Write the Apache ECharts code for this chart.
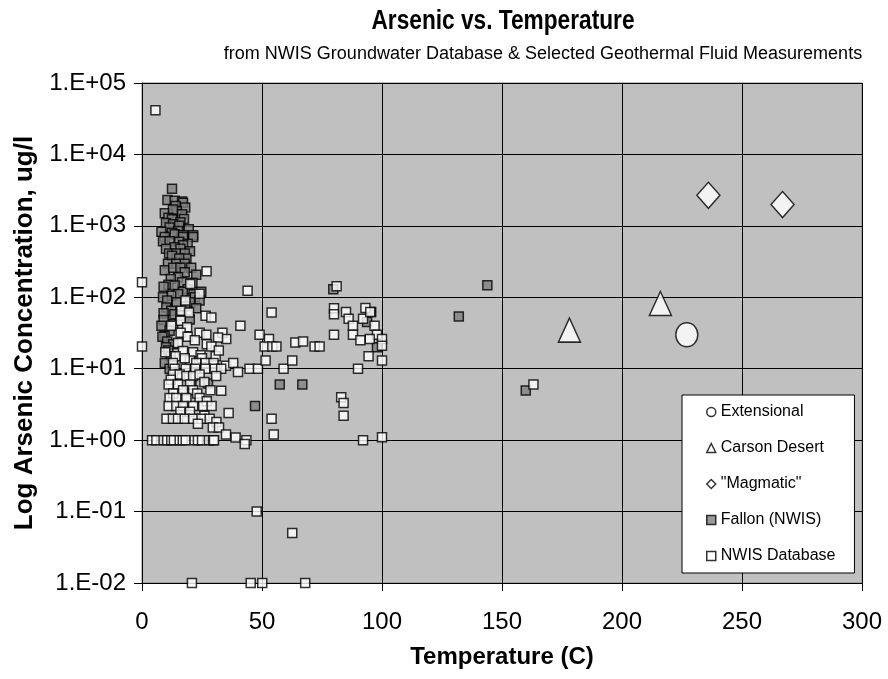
<!DOCTYPE html>
<html><head><meta charset="utf-8">
<script src="https://cdn.jsdelivr.net/npm/echarts@6/dist/echarts.min.js"></script>
<style>html,body{margin:0;padding:0;background:#fff}#c{width:888px;height:679px}</style>
</head><body><div id="c"></div>
<script>
const titleText = 'Arsenic vs. Temperature';
const subtitleText = 'from NWIS Groundwater Database & Selected Geothermal Fluid Measurements';
const xName = 'Temperature (C)';
const yName = 'Log Arsenic Concentration, ug/l';
const seriesNames = ['Extensional', 'Carson Desert', '"Magmatic"', 'Fallon (NWIS)', 'NWIS Database'];

const extensionalPts = [[227, 29.9]];
const carsonPts = [[178.1, 34.7], [216, 81.9]];
const magmaticPts = [[236, 2680], [266.9, 1987]];

const fallonPts = [[12.5,3300],[10.6,2300],[13.6,2250],[16.7,2200],[17.1,2100],[14,1900],[18,1800],[14.5,1600],[9.5,1500],[12.9,1700],[16.7,1450],[11,1300],[17.5,1250],[12.5,1240],[16,1120],[10,1100],[13,1050],[15.5,1000],[11.5,950],[19.5,900],[15,850],[8.1,830],[12.5,800],[13.6,760],[17.1,740],[21.3,740],[17.1,700],[21.3,700],[9.5,700],[8.75,610],[11.5,610],[15.5,600],[19,560],[17.1,535],[13.5,500],[10,480],[16,480],[20,440],[11.3,410],[14.3,410],[17.8,410],[12.5,380],[18.5,350],[15.5,350],[10.8,295],[14.3,295],[17.8,295],[9.5,240],[13,260],[16,260],[20.5,260],[17.8,225],[22.6,206],[15,190],[12,180],[16.7,163],[21,160],[11,150],[13.6,146],[9,140],[19,130],[17,120],[24.7,120],[15,111],[21.5,110],[12.2,105],[8.75,100],[22,100],[10.5,90],[24,90],[14.5,85],[20,85],[18,75],[10.1,72],[22.6,70],[12.2,65],[9,60],[13.5,58],[16,55],[19.9,49],[9,48],[13,42],[8.1,40],[11.5,34],[9.4,29],[8.5,28],[10.5,24],[13,22],[10,20],[11,18],[12,15],[9.5,12],[11.5,10],[20.6,6],[27.5,6.2],[47.1,3],[57.4,6],[66.8,6],[79.7,130],[93.8,45],[95.5,62],[97.9,20],[132,53.8],[143.9,147.6],[159.9,4.97]];

const nwisPts = [[5.6,41700],[0,163],[0,20.4],[26.9,232],[20.1,154],[24,112],[44,123],[18.1,90],[16.4,65],[19.6,61],[54,61],[26.5,55],[28.9,52],[16.1,47],[41,40],[12.2,40],[18.8,38],[16.1,32],[24,32],[26.8,30],[33.5,32],[35.1,26],[31.7,27.4],[49,30],[52.9,26],[51.1,20.4],[54.3,20.4],[56,20.4],[63.9,23.3],[67.1,24],[19,28],[22,25],[27,22],[9.7,17],[15,23],[17.1,17.7],[21.3,17],[24.4,15.4],[28.9,20.5],[30.7,15],[32,18],[14,15],[20,13],[25,14],[12.9,12],[17.8,14],[22.6,12],[26.5,12],[29.8,12],[35,11],[38,12],[13.6,10],[18.2,10],[22.2,10],[26.4,10],[30.3,10],[33,10],[40,9],[44.8,10],[48.3,10],[51.5,13],[59,10],[62.6,13],[12.9,8.3],[15.7,8.3],[18.5,7.9],[21.3,7.9],[24,8.3],[30.9,7.9],[12,7],[26,6.5],[20,6],[11.1,6],[15,6],[17.1,5],[21.3,5],[28.5,5],[33,4.9],[13,4.5],[23,4.5],[11.5,3.9],[14.3,3.9],[18.5,3.9],[24,3.9],[27,3.5],[11.1,3],[14.3,3],[17.1,3],[21.3,3],[25.5,3],[29,3],[16,2.5],[20,2.5],[36.1,2.4],[26,2.2],[10.2,2],[12.9,2],[15,2],[17.8,2],[21.3,2],[24.8,2],[28.2,2],[31,1.8],[29.5,1.5],[32.1,1.5],[23.3,1.7],[35,1.2],[54,2],[54.9,1.2],[4.2,1],[6,1],[9,1],[10.5,1],[12.2,1],[13.3,1],[15.7,1],[17,1],[18.2,1],[21.9,1],[23.3,1],[25,1],[27.9,1],[29.6,1],[30,1],[39,1.09],[43.5,1],[42.8,0.88],[92.1,1],[100,1.1],[47.8,0.1],[62.6,0.05],[20.8,0.01],[45.3,0.01],[50.1,0.01],[68,0.01],[81.1,143],[80,70],[80,58],[85,62],[86.1,50],[87.9,40],[87.9,30],[93.1,71],[92.1,50],[95.1,62],[96.9,40],[97.9,30],[100,26],[100,21],[94.9,26],[91,25],[94.4,15],[100,13],[90,10],[80,30],[71.9,20.4],[74,20.4],[83,4],[84,3.3],[84,2.2],[163.1,6]];

const xMin = 0, xMax = 300, xStep = 50;
const yMin = 0.01, yMax = 100000;

const FONT = 'Arial, "Liberation Sans", Helvetica, sans-serif';
const chart = echarts.init(document.getElementById('c'), null, {renderer: 'canvas'});

function sciLabel(v) {
  const e = Math.round(Math.log10(v));
  const a = Math.abs(e);
  return '1.E' + (e < 0 ? '-' : '+') + (a < 10 ? '0' : '') + a;
}

const whiteStyle = {color: '#ffffff', borderColor: '#000000', borderWidth: 1.5};
const fallonStyle = {color: '#808080', borderColor: '#000000', borderWidth: 1.5};

chart.setOption({
  animation: false,
  backgroundColor: '#ffffff',
  title: [
    {text: subtitleText, left: 538, top: 40, textAlign: 'center',
     textStyle: {fontFamily: FONT, fontSize: 18, fontWeight: 'normal', color: '#000'}}
  ],
  graphic: [
    {type: 'text', x: 503, y: 22, scaleX: 0.84,
     style: {text: titleText, font: 'bold 27px ' + FONT, fill: '#000',
             textAlign: 'center', textVerticalAlign: 'middle'}}
  ],
  grid: {left: 142, right: 26, top: 83, bottom: 96, show: true,
         backgroundColor: '#C0C0C0', borderColor: '#808080', borderWidth: 1},
  legend: {
    orient: 'vertical', left: 682, top: 395,
    padding: [8, 19, 8, 24], itemGap: 18, itemWidth: 9, itemHeight: 9,
    backgroundColor: '#ffffff', borderColor: '#000000', borderWidth: 1,
    textStyle: {fontFamily: FONT, fontSize: 16, color: '#000', lineHeight: 18},
    data: [
      {name: seriesNames[0], icon: 'circle', itemStyle: whiteStyle},
      {name: seriesNames[1], icon: 'triangle', itemStyle: whiteStyle},
      {name: seriesNames[2], icon: 'diamond', itemStyle: whiteStyle},
      {name: seriesNames[3], icon: 'rect', itemStyle: fallonStyle},
      {name: seriesNames[4], icon: 'rect', itemStyle: whiteStyle}
    ]
  },
  xAxis: {
    type: 'value', min: xMin, max: xMax, interval: xStep,
    name: xName, nameLocation: 'middle', nameGap: 62,
    nameTextStyle: {fontFamily: FONT, fontSize: 24, fontWeight: 'bold', color: '#000'},
    axisLine: {show: true, onZero: false, lineStyle: {color: '#000', width: 1}},
    axisTick: {show: true, inside: false, length: 8, lineStyle: {color: '#000'}},
    axisLabel: {fontFamily: FONT, fontSize: 24, color: '#000', margin: 27},
    splitLine: {show: true, lineStyle: {color: '#000', width: 1}}
  },
  yAxis: {
    type: 'log', logBase: 10, min: yMin, max: yMax, interval: 1, splitNumber: 7,
    name: yName, nameLocation: 'middle', nameGap: 104, nameRotate: 90,
    nameTextStyle: {fontFamily: FONT, fontSize: 26, fontWeight: 'bold', color: '#000'},
    axisLine: {show: true, lineStyle: {color: '#000', width: 1}},
    axisTick: {show: true, inside: false, length: 8, lineStyle: {color: '#000'}},
    minorTick: {show: false},
    axisLabel: {fontFamily: FONT, fontSize: 24, color: '#000', margin: 16, formatter: sciLabel},
    splitLine: {show: true, lineStyle: {color: '#000', width: 1}}
  },
  series: [
    {name: seriesNames[3], type: 'scatter', symbol: 'rect', symbolSize: 9,
     itemStyle: fallonStyle, data: fallonPts},
    {name: seriesNames[4], type: 'scatter', symbol: 'rect', symbolSize: 9,
     itemStyle: whiteStyle, data: nwisPts},
    {name: seriesNames[0], type: 'scatter', symbol: 'circle', symbolSize: [22, 24],
     itemStyle: whiteStyle, data: extensionalPts},
    {name: seriesNames[1], type: 'scatter', symbol: 'triangle', symbolSize: [22, 24],
     itemStyle: whiteStyle, data: carsonPts},
    {name: seriesNames[2], type: 'scatter', symbol: 'diamond', symbolSize: [23, 26],
     itemStyle: whiteStyle, data: magmaticPts}
  ]
});
</script></body></html>
